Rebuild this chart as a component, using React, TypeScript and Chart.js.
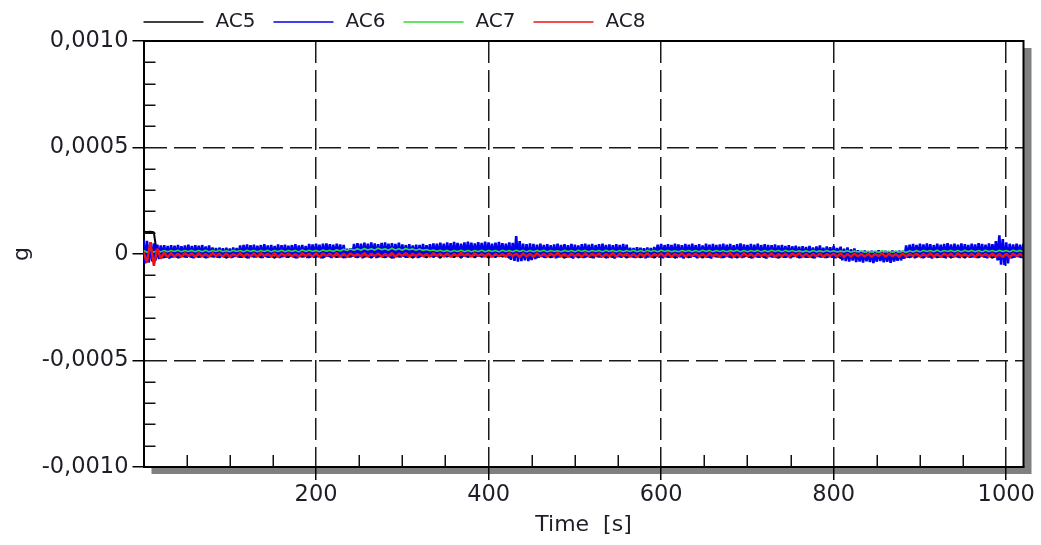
import React, { useEffect, useRef } from 'react';
import { Chart, registerables } from 'chart.js';

Chart.register(...registerables);

// ---------- data ----------
const SERIES_NAMES = ['AC5', 'AC6', 'AC7', 'AC8'];
const SERIES_COLORS = ['#000000', '#0000ee', '#2edc2e', '#ee1111'];
const SAMPLE_STEP_S = [4, 2, 4, 4]; // sample spacing of each array below, seconds
const MICRO_G = 1e-6; // series values are stored in micro-g

const X_TICK_VALUES = [200, 400, 600, 800, 1000];
const X_TICK_LABELS = ['200', '400', '600', '800', '1000'];
const Y_TICK_VALUES = [-0.001, -0.0005, 0, 0.0005, 0.001];
const Y_TICK_LABELS = ['-0,0010', '-0,0005', '0', '0,0005', '0,0010'];

// AC5, every 4 s
const AC5_UG = [
  104, 103, 104, 102, -12, -4, -16, -6, -14, -3, -17, -5, -13, -2, -15, -7,
  -14, -4, -17, -6, -12, -3, -16, -5, -18, -7, -13, -2, -15, -6, -17, -4,
  -13, -5, -16, -3, -14, -7, -18, -4, -12, -6, -15, -2, -17, -5, -13, -4,
  -16, -6, -14, -3, -18, -5, -12, -7, -15, -4, -17, -2, -13, -6, -16, -5,
  -14, -3, -17, -6, -13, -4, -16, -7, -18, -5, -12, -3, -15, -6, -17, -4,
  -13, -5, -16, -2, -14, -6, -18, -4, -12, -7, -15, -3, -17, -5, -14, -6,
  -16, -4, -13, -7, -17, -3, -15, -5, -12, -6, -18, -4, -14, -2, -16, -6,
  -22, -5, -17, -3, -14, -6, -16, -4, -13, -7, -18, -5, -15, -2, -17, -6,
  -14, -4, -16, -7, -13, -3, -17, -5, -15, -6, -12, -4, -18, -2, -14, -5,
  -16, -6, -13, -4, -17, -7, -14, -3, -15, -5, -18, -6, -12, -4, -16, -2,
  -13, -5, -17, -3, -15, -6, -12, -4, -16, -7, -14, -5, -18, -3, -13, -6,
  -17, -4, -14, -6, -16, -2, -13, -5, -18, -7, -15, -3, -12, -6, -17, -4,
  -15, -5, -18, -3, -13, -6, -16, -4, -14, -7, -20, -5, -17, -2, -19, -6,
  -21, -7, -18, -4, -20, -6, -17, -3, -19, -5, -22, -8, -18, -4, -16, -6,
  -14, -3, -17, -6, -13, -4, -16, -7, -15, -2, -18, -5, -14, -6, -17, -3,
  -13, -5, -16, -4, -14, -6, -18, -3, -25, -7, -20, -4, -15, -6, -13, -5,
];

// AC6, every 2 s
const AC6_UG = [
  68, -44, 62, -40, 55, -35, 50, -30, 44, -24, 40, -20, 42, -18, 38, -22,
  41, -17, 39, -15, 43, -19, 37, -14, 40, -18, 44, -16, 38, -20, 41, -13,
  39, -17, 42, -15, 36, -19, 40, -14, 31, -16, 28, -18, 30, -13, 27, -17,
  29, -15, 26, -19, 31, -14, 28, -16, 40, -18, 43, -15, 45, -20, 41, -14,
  44, -17, 39, -13, 42, -19, 46, -15, 40, -18, 43, -14, 38, -16, 45, -19,
  41, -15, 44, -18, 39, -13, 42, -17, 46, -20, 40, -14, 43, -16, 38, -19,
  47, -15, 45, -18, 49, -14, 44, -20, 48, -16, 50, -13, 46, -19, 44, -15,
  48, -17, 45, -14, 43, -19, 25, -16, 27, -13, 47, -18, 51, -15, 49, -20,
  53, -14, 48, -17, 55, -13, 50, -19, 46, -15, 52, -18, 54, -14, 49, -16,
  51, -20, 47, -15, 53, -17, 45, -13, 42, -18, 46, -14, 40, -16, 44, -19,
  43, -13, 47, -16, 41, -12, 46, -15, 50, -11, 48, -14, 53, -12, 49, -15,
  55, -11, 51, -14, 57, -10, 52, -13, 49, -12, 54, -15, 58, -11, 53, -13,
  50, -12, 56, -10, 52, -14, 58, -11, 55, -13, 49, -15, 53, -12, 57, -10,
  51, -14, 48, -13, 54, -28, 52, -32, 84, -36, 60, -34, 49, -30, 46, -33,
  50, -29, 47, -24, 44, -18, 48, -15, 43, -19, 46, -14, 41, -17, 45, -20,
  48, -16, 43, -13, 46, -18, 41, -15, 47, -21, 44, -14, 40, -17, 46, -19,
  49, -15, 44, -18, 47, -20, 42, -14, 46, -17, 48, -13, 43, -19, 45, -16,
  41, -21, 46, -15, 43, -18, 47, -14, 44, -17, 30, -15, 28, -19, 32, -14,
  29, -17, 27, -20, 31, -15, 28, -18, 33, -13, 44, -17, 47, -20, 42, -15,
  46, -18, 43, -14, 48, -19, 45, -16, 41, -21, 47, -15, 44, -18, 49, -13,
  42, -20, 46, -16, 40, -14, 48, -18, 44, -21, 47, -15, 43, -17, 45, -19,
  49, -16, 44, -14, 47, -20, 42, -17, 46, -15, 50, -19, 45, -13, 43, -18,
  47, -20, 44, -15, 48, -18, 42, -16, 46, -21, 43, -14, 41, -17, 45, -19,
  40, -15, 43, -18, 38, -16, 41, -20, 36, -14, 39, -17, 34, -19, 37, -15,
  33, -18, 38, -16, 31, -20, 35, -14, 40, -17, 30, -19, 36, -15, 32, -18,
  37, -20, 28, -16, 34, -30, 25, -33, 31, -36, 22, -31, 26, -38, 18, -35,
  14, -40, 17, -34, 12, -38, 16, -42, 13, -36, 18, -33, 11, -39, 15, -37,
  13, -41, 17, -35, 12, -32, 16, -30, 14, -22, 40, -18, 44, -16, 47, -20,
  43, -15, 48, -19, 45, -14, 50, -17, 46, -21, 42, -15, 49, -18, 44, -16,
  47, -20, 51, -15, 45, -18, 48, -14, 44, -19, 50, -16, 46, -13, 43, -18,
  49, -16, 45, -19, 51, -14, 47, -17, 44, -20, 50, -15, 46, -18, 60, -30,
  88, -50, 70, -52, 55, -44, 48, -21, 45, -17, 49, -15, 44, -19, 47, -16,
];

// AC7, every 4 s
const AC7_UG = [
  16, 8, 18, 9, 15, 10, 17, 11, 16, 12, 18, 10, 16, 12, 17, 11,
  16, 11, 18, 10, 16, 12, 18, 11, 15, 11, 17, 12, 16, 10, 18, 12,
  17, 11, 16, 12, 18, 10, 16, 12, 18, 11, 16, 12, 17, 10, 19, 12,
  18, 12, 17, 11, 19, 13, 18, 12, 20, 14, 22, 16, 24, 18, 25, 18,
  26, 19, 25, 18, 27, 20, 25, 18, 27, 19, 25, 18, 26, 20, 24, 18,
  23, 17, 21, 15, 19, 13, 18, 12, 17, 11, 16, 12, 18, 11, 17, 11,
  16, 12, 18, 11, 17, 12, 16, 10, 18, 12, 16, 11, 18, 12, 17, 10,
  16, 11, 17, 12, 18, 10, 16, 12, 15, 11, 17, 12, 16, 10, 18, 12,
  17, 11, 16, 12, 16, 10, 18, 12, 17, 11, 16, 10, 16, 12, 18, 11,
  16, 10, 17, 12, 16, 11, 18, 12, 16, 10, 15, 11, 17, 12, 16, 10,
  16, 11, 18, 12, 17, 10, 16, 12, 16, 11, 17, 12, 18, 10, 16, 11,
  16, 12, 17, 10, 16, 11, 18, 12, 16, 10, 17, 12, 16, 11, 15, 10,
  15, 9, 16, 10, 15, 10, 17, 11, 15, 9, 14, 10, 15, 8, 14, 9,
  14, 8, 13, 8, 14, 7, 15, 9, 13, 8, 14, 8, 14, 7, 15, 9,
  16, 10, 17, 12, 16, 11, 18, 10, 16, 12, 17, 11, 16, 10, 18, 12,
  17, 11, 16, 10, 18, 12, 16, 11, 17, 12, 16, 10, 18, 12, 17, 11,
];

// AC8, every 4 s
const AC8_UG = [
  10, -40, 55, -55, 25, -22, 8, -15, 4, -12, 2, -13, 5, -10, 3, -14,
  4, -11, 1, -13, 5, -9, 2, -12, 3, -14, 0, -10, 4, -12, 2, -11,
  3, -13, 5, -10, 1, -12, 4, -14, 2, -9, 3, -11, 0, -13, 4, -10,
  2, -12, 4, -14, 3, -10, 1, -11, 5, -13, 2, -12, 3, -9, 0, -11,
  4, -12, 2, -10, 3, -13, 1, -11, 5, -14, 2, -9, 4, -12, 1, -10,
  3, -11, 0, -13, 4, -10, 2, -12, 3, -14, 1, -11, 5, -9, 2, -13,
  4, -10, 1, -12, 3, -14, 2, -11, 0, -13, 4, -10, 2, -15, 3, -12,
  1, -14, 4, -11, 2, -13, 3, -10, 5, -12, 1, -14, 3, -11, 2, -13,
  4, -12, 2, -10, 3, -14, 1, -11, 4, -13, 2, -9, 3, -12, 0, -14,
  2, -11, 4, -13, 1, -10, 3, -12, 5, -14, 2, -11, 4, -13, 1, -10,
  3, -12, 2, -14, 4, -11, 1, -13, 3, -10, 5, -12, 2, -14, 4, -11,
  1, -13, 3, -10, 2, -12, 4, -14, 0, -11, 3, -13, 2, -10, 4, -12,
  2, -14, 1, -11, 3, -13, 0, -10, 2, -12, 4, -15, 1, -13, 3, -11,
  0, -12, 2, -14, 1, -10, 3, -13, 2, -11, 0, -14, 3, -12, 1, -10,
  3, -13, 2, -11, 4, -12, 1, -14, 3, -10, 2, -13, 4, -11, 1, -12,
  2, -14, 4, -10, 1, -12, 3, -13, 0, -15, 2, -16, 3, -11, 1, -12,
];

const SERIES_VALUES = [AC5_UG, AC6_UG, AC7_UG, AC8_UG];

// ---------- styling ----------
const FONT = '"DejaVu Sans", Verdana, sans-serif';
const TEXT_COLOR = '#1e1e28';
const LINE_WIDTHS = [2, 2.6, 1.6, 2.4];
const DRAW_ORDER = [4, 3, 2, 1]; // lower = drawn on top

const toPoints = (vals: number[], step: number) =>
  vals.map((v, i) => ({ x: i * step, y: v * MICRO_G }));

const decorPlugin = {
  id: 'decor',
  beforeDraw(chart: any) {
    const { ctx, chartArea: a } = chart;
    ctx.save();
    ctx.fillStyle = '#ffffff';
    ctx.fillRect(0, 0, chart.width, chart.height);
    ctx.fillStyle = '#808080';
    ctx.fillRect(a.left + 8, a.top + 7, a.right - a.left, a.bottom - a.top);
    ctx.fillStyle = '#ffffff';
    ctx.fillRect(a.left, a.top, a.right - a.left, a.bottom - a.top);
    ctx.restore();
  },
  afterDraw(chart: any) {
    const { ctx, chartArea: a, scales } = chart;
    const xs = scales.x;
    const ys = scales.y;
    ctx.save();
    // frame top & right
    ctx.strokeStyle = '#000';
    ctx.lineWidth = 2;
    ctx.beginPath();
    ctx.moveTo(a.left, a.top);
    ctx.lineTo(a.right, a.top);
    ctx.lineTo(a.right, a.bottom);
    ctx.stroke();
    // minor ticks
    ctx.lineWidth = 1.5;
    ctx.strokeStyle = '#111';
    ctx.beginPath();
    for (let k = -9; k <= 9; k++) {
      if (k % 5 === 0) continue;
      const y = Math.round(ys.getPixelForValue(k * 0.0001)) + 0.25;
      ctx.moveTo(a.left, y);
      ctx.lineTo(a.left + 12, y);
    }
    for (let t = 50; t < xs.max; t += 50) {
      if (t % 200 === 0) continue;
      const x = Math.round(xs.getPixelForValue(t)) + 0.25;
      ctx.moveTo(x, a.bottom);
      ctx.lineTo(x, a.bottom - 12);
    }
    ctx.stroke();
    // legend
    ctx.font = '20px ' + FONT;
    ctx.textBaseline = 'middle';
    ctx.textAlign = 'left';
    let x = a.left;
    const ly = 22;
    chart.data.datasets.forEach((ds: any) => {
      ctx.strokeStyle = ds.borderColor;
      ctx.lineWidth = 1.5;
      ctx.beginPath();
      ctx.moveTo(x, ly);
      ctx.lineTo(x + 60, ly);
      ctx.stroke();
      ctx.fillStyle = TEXT_COLOR;
      ctx.fillText(ds.label, x + 72, ly);
      x += 130;
    });
    ctx.restore();
  },
};

export default function App() {
  const ref = useRef<HTMLCanvasElement>(null);
  useEffect(() => {
    const canvas = ref.current;
    if (!canvas) return;
    const chart = new Chart(canvas, {
      type: 'line',
      data: {
        datasets: SERIES_NAMES.map((name, i) => ({
          label: name,
          data: toPoints(SERIES_VALUES[i], SAMPLE_STEP_S[i]),
          borderColor: SERIES_COLORS[i],
          backgroundColor: SERIES_COLORS[i],
          borderWidth: LINE_WIDTHS[i],
          borderJoinStyle: 'bevel',
          pointRadius: 0,
          tension: 0,
          fill: false,
          order: DRAW_ORDER[i],
        })),
      },
      options: {
        animation: false,
        responsive: false,
        devicePixelRatio: 1,
        events: [],
        layout: { padding: { top: 41, right: 17.5, bottom: 0, left: 0 } },
        plugins: {
          legend: { display: false },
          tooltip: { enabled: false },
        },
        scales: {
          x: {
            type: 'linear',
            min: 0,
            max: 1020,
            afterFit: (s: any) => {
              s.height = 78;
            },
            afterBuildTicks: (s: any) => {
              s.ticks = X_TICK_VALUES.map((value) => ({ value }));
            },
            ticks: {
              autoSkip: false,
              maxRotation: 0,
              padding: 2,
              color: TEXT_COLOR,
              font: { family: FONT, size: 22.5 },
              callback: (_v: any, i: number) => X_TICK_LABELS[i],
            },
            grid: {
              color: '#1a1a1a',
              lineWidth: 1.5,
              tickLength: 13,
              tickWidth: 1.5,
              tickColor: '#000',
            },
            border: { display: true, color: '#000', width: 2, dash: [22, 7] },
            title: {
              display: true,
              text: 'Time  [s]',
              color: TEXT_COLOR,
              font: { family: FONT, size: 22 },
              padding: { top: 0, bottom: 7 },
            },
          },
          y: {
            type: 'linear',
            min: -0.001,
            max: 0.001,
            afterFit: (s: any) => {
              s.width = 143.5;
            },
            afterBuildTicks: (s: any) => {
              s.ticks = Y_TICK_VALUES.map((value) => ({ value }));
            },
            ticks: {
              padding: 4,
              color: TEXT_COLOR,
              font: { family: FONT, size: 22.5 },
              callback: (_v: any, i: number) => Y_TICK_LABELS[i],
            },
            grid: {
              color: '#1a1a1a',
              lineWidth: 1.5,
              tickLength: 11,
              tickWidth: 1.5,
              tickColor: '#000',
            },
            border: { display: true, color: '#000', width: 2, dash: [22, 7] },
            title: {
              display: true,
              text: 'g',
              color: TEXT_COLOR,
              font: { family: FONT, size: 22 },
              padding: { top: 9, bottom: 0 },
            },
          },
        },
      },
      plugins: [decorPlugin],
    } as any);
    return () => chart.destroy();
  }, []);

  return (
    <div style={{ position: 'fixed', left: 0, top: 0, width: 1041, height: 545, background: '#fff' }}>
      <canvas ref={ref} width={1041} height={545} style={{ display: 'block', width: 1041, height: 545 }} />
    </div>
  );
}
